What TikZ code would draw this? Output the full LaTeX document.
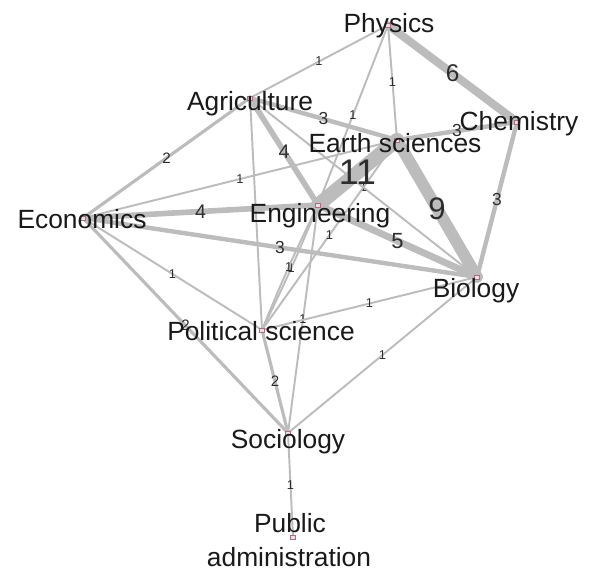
\documentclass[tikz,border=0pt]{standalone}
\usepackage{fontspec}
\setmainfont{Liberation Sans}
\usepackage{tikz}
\usetikzlibrary{arrows, calc}

\definecolor{linkgray}{RGB}{188,188,188}
\definecolor{labgray}{RGB}{45,45,45}
\definecolor{dotred}{RGB}{140,45,75}

\begin{document}
\begin{tikzpicture}[x=0.02cm,y=-0.02cm,
    field/.style={anchor=base, font=\fontsize{15pt}{17pt}\selectfont, text=black!90, inner sep=0pt},
    dot/.style={draw=dotred!70, fill=dotred!15, line width=0.4pt, minimum width=3pt, minimum height=2.2pt, inner sep=0pt},
    wt/.style={draw=linkgray, line cap=round, line width=0.7pt*#1+0.4pt,
      nodes={text=labgray, inner sep=0pt,
        font=\pgfmathsetmacro\fs{6+1.3*#1}\fontsize{\fs pt}{\fs pt}\selectfont}}]
  \useasboundingbox (0,0) rectangle (591,572);

  % Define vertices
  \coordinate (phy)  at (388,25);
  \coordinate (agr)  at (250,98);
  \coordinate (chem) at (517,122);
  \coordinate (es)   at (397,140);
  \coordinate (eng)  at (318,205);
  \coordinate (econ) at (83,218);
  \coordinate (bio)  at (477,277);
  \coordinate (pol)  at (262,330);
  \coordinate (soc)  at (288,433);
  \coordinate (pub)  at (293,537);

  % Draw edges with weights
  \draw[wt=1] (phy) -- node {1} (agr);
  \draw[wt=1] (phy) -- node {1} (es);
  \draw[wt=1] (phy) -- node {1} (eng);
  \draw[wt=2] (agr) -- node {2} (econ);
  \draw[wt=1] (agr) -- (pol);
  \draw[wt=1] (agr) -- node {1} (bio);
  \draw[wt=1] (es) -- node {1} (econ);
  \draw[wt=1] (es) -- node {1} (pol);
  \draw[wt=1] (econ) -- node {1} (pol);
  \draw[wt=2] (econ) -- node {2} (soc);
  \draw[wt=1] (eng) to[bend left=2] node {1} (pol);
  \draw[wt=1] (eng) to[bend right=2] node {1} (pol);
  \draw[wt=1] (eng) -- node {1} (soc);
  \draw[wt=1] (pol) -- node {1} (bio);
  \draw[wt=2] (pol) -- node {2} (soc);
  \draw[wt=1] (bio) -- node {1} (soc);
  \draw[wt=1] (soc) -- node {1} (pub);
  \draw[wt=3] (agr) -- node {3} (es);
  \draw[wt=3] (es) -- node {3} (chem);
  \draw[wt=3] (chem) -- node {3} (bio);
  \draw[wt=3] (econ) -- node {3} (bio);
  \draw[wt=4] (agr) -- node {4} (eng);
  \draw[wt=4] (econ) -- node {4} (eng);
  \draw[wt=5] (eng) -- node {5} (bio);
  \draw[wt=6] (phy) -- node {6} (chem);
  \draw[wt=9] (es) -- node {9} (bio);
  \draw[wt=11] (es) -- node {11} (eng);

  % Vertex marks
  \foreach \v in {phy,agr,chem,es,eng,econ,bio,pol,soc,pub}
    \node[dot] (\v-dot) at (\v) {};

  % Vertex names
  \node[field] (phyT)  at (389,32)  {Physics};
  \node[field] (agrT)  at (250,110) {Agriculture};
  \node[field] (chemT) at (519,130) {Chemistry};
  \node[field] (esT)   at (395,152) {Earth sciences};
  \node[field] (engT)  at (320,222) {Engineering};
  \node[field] (econT) at (82,228)  {Economics};
  \node[field] (bioT)  at (476,297) {Biology};
  \node[field] (polT)  at (261,340) {Political science};
  \node[field] (socT)  at (288,448) {Sociology};
  \node[field] (pubT)  at (290,532) {Public};
  \node[field] (admT)  at (289,566) {administration};
\end{tikzpicture}
\end{document}
